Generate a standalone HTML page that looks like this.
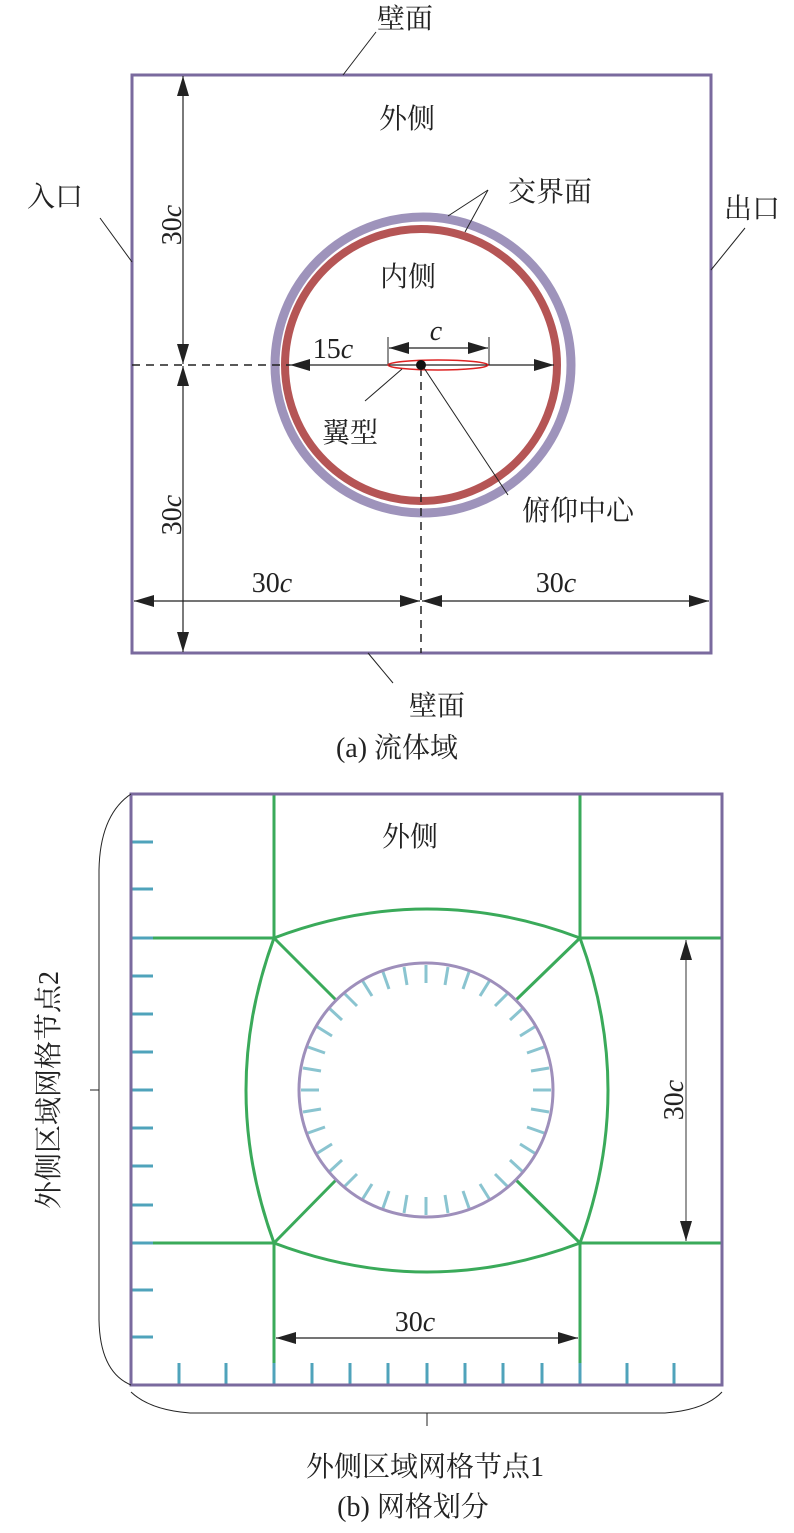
<!DOCTYPE html>
<html><head><meta charset="utf-8"><style>
html,body{margin:0;padding:0;background:#fff;}
svg{display:block;}
text{font-family:"Liberation Serif","Noto Serif CJK SC","Noto Sans CJK SC",serif;fill:#222;}
</style></head><body>
<svg width="794" height="1533" viewBox="0 0 794 1533" xmlns="http://www.w3.org/2000/svg">
<defs>
<marker id="ah" viewBox="0 0 20 12" refX="20" refY="6" markerWidth="22" markerHeight="12" markerUnits="userSpaceOnUse" orient="auto-start-reverse">
<path d="M0,0 L20,6 L0,12 Z" fill="#222"/>
</marker>
</defs>
<!-- (a) -->
<rect x="132" y="75" width="579" height="578" fill="none" stroke="#7a6a9e" stroke-width="3"/>
<circle cx="423" cy="365" r="148" fill="none" stroke="#9e93bb" stroke-width="9"/>
<circle cx="421" cy="365" r="136" fill="none" stroke="#b55555" stroke-width="8"/>
<line x1="132" y1="365" x2="290" y2="365" stroke="#222" stroke-width="1.5" stroke-dasharray="8,6"/>
<line x1="421" y1="368" x2="421" y2="653" stroke="#222" stroke-width="1.5" stroke-dasharray="8,6"/>
<line x1="183" y1="76" x2="183" y2="364" stroke="#222" stroke-width="1.2" marker-start="url(#ah)" marker-end="url(#ah)"/>
<line x1="183" y1="366" x2="183" y2="652" stroke="#222" stroke-width="1.2" marker-start="url(#ah)" marker-end="url(#ah)"/>
<line x1="134" y1="601" x2="420" y2="601" stroke="#222" stroke-width="1.2" marker-start="url(#ah)" marker-end="url(#ah)"/>
<line x1="422" y1="601" x2="709" y2="601" stroke="#222" stroke-width="1.2" marker-start="url(#ah)" marker-end="url(#ah)"/>
<line x1="290" y1="365" x2="554" y2="365" stroke="#222" stroke-width="1.2" marker-start="url(#ah)" marker-end="url(#ah)"/>
<line x1="388" y1="337" x2="388" y2="365" stroke="#222" stroke-width="1"/>
<line x1="489" y1="337" x2="489" y2="365" stroke="#222" stroke-width="1"/>
<line x1="389" y1="348" x2="488" y2="348" stroke="#222" stroke-width="1.2" marker-start="url(#ah)" marker-end="url(#ah)"/>
<ellipse cx="438" cy="365" rx="50" ry="5" fill="none" stroke="#d22" stroke-width="1.5"/>
<circle cx="421" cy="365" r="5" fill="#111"/>
<g stroke="#222" stroke-width="1" fill="none">
<line x1="376" y1="32" x2="343" y2="75"/>
<line x1="100" y1="218" x2="132" y2="262"/>
<line x1="745" y1="228" x2="711" y2="270"/>
<line x1="488" y1="190" x2="448" y2="216"/>
<line x1="488" y1="190" x2="465" y2="232"/>
<line x1="365" y1="401" x2="402" y2="369"/>
<line x1="508" y1="495" x2="424" y2="368"/>
<line x1="393" y1="683" x2="368" y2="653"/>
</g>
<g font-size="28">
<text x="405" y="28" text-anchor="middle">壁面</text>
<text x="407" y="128" text-anchor="middle">外侧</text>
<text x="55" y="206" text-anchor="middle">入口</text>
<text x="752" y="218" text-anchor="middle">出口</text>
<text x="550" y="201" text-anchor="middle">交界面</text>
<text x="408" y="286" text-anchor="middle">内侧</text>
<text x="350" y="442" text-anchor="middle">翼型</text>
<text x="578" y="520" text-anchor="middle">俯仰中心</text>
<text x="437" y="715" text-anchor="middle">壁面</text>
<text x="397" y="757" text-anchor="middle">(a) 流体域</text>
<text x="333" y="358" text-anchor="middle">15<tspan font-style="italic">c</tspan></text>
<text x="436" y="340" text-anchor="middle" font-style="italic">c</text>
<text x="272" y="592" text-anchor="middle">30<tspan font-style="italic">c</tspan></text>
<text x="556" y="592" text-anchor="middle">30<tspan font-style="italic">c</tspan></text>
<text transform="translate(181,225) rotate(-90)" text-anchor="middle">30<tspan font-style="italic">c</tspan></text>
<text transform="translate(181,515) rotate(-90)" text-anchor="middle">30<tspan font-style="italic">c</tspan></text>
</g>
<!-- (b) -->
<g stroke="#4fa3bb" stroke-width="3">
<line x1="131" y1="842" x2="153" y2="842"/><line x1="131" y1="889" x2="153" y2="889"/>
<line x1="131" y1="938" x2="153" y2="938"/><line x1="131" y1="976" x2="153" y2="976"/>
<line x1="131" y1="1014" x2="153" y2="1014"/><line x1="131" y1="1052" x2="153" y2="1052"/>
<line x1="131" y1="1090" x2="153" y2="1090"/><line x1="131" y1="1128" x2="153" y2="1128"/>
<line x1="131" y1="1166" x2="153" y2="1166"/><line x1="131" y1="1205" x2="153" y2="1205"/>
<line x1="131" y1="1243" x2="153" y2="1243"/><line x1="131" y1="1290" x2="153" y2="1290"/>
<line x1="131" y1="1337" x2="153" y2="1337"/>
<line x1="179" y1="1385" x2="179" y2="1363"/><line x1="226" y1="1385" x2="226" y2="1363"/>
<line x1="274" y1="1385" x2="274" y2="1363"/><line x1="312" y1="1385" x2="312" y2="1363"/>
<line x1="350" y1="1385" x2="350" y2="1363"/><line x1="388" y1="1385" x2="388" y2="1363"/>
<line x1="427" y1="1385" x2="427" y2="1363"/><line x1="465" y1="1385" x2="465" y2="1363"/>
<line x1="503" y1="1385" x2="503" y2="1363"/><line x1="542" y1="1385" x2="542" y2="1363"/>
<line x1="580" y1="1385" x2="580" y2="1363"/><line x1="627" y1="1385" x2="627" y2="1363"/>
<line x1="674" y1="1385" x2="674" y2="1363"/>
</g>
<g stroke="#3aaa5a" stroke-width="3" fill="none">
<line x1="274" y1="794" x2="274" y2="938"/>
<line x1="580" y1="794" x2="580" y2="938"/>
<line x1="274" y1="1243" x2="274" y2="1363"/>
<line x1="580" y1="1243" x2="580" y2="1363"/>
<line x1="153" y1="938" x2="274" y2="938"/>
<line x1="580" y1="938" x2="721" y2="938"/>
<line x1="153" y1="1243" x2="274" y2="1243"/>
<line x1="580" y1="1243" x2="721" y2="1243"/>
<path d="M274,938 Q427,880 580,938"/>
<path d="M274,1243 Q427,1301 580,1243"/>
<path d="M274,938 Q218,1090 274,1243"/>
<path d="M580,938 Q636,1090 580,1243"/>
<line x1="274" y1="938" x2="336" y2="1000"/>
<line x1="580" y1="938" x2="516" y2="1000"/>
<line x1="274" y1="1243" x2="336" y2="1180"/>
<line x1="580" y1="1243" x2="516" y2="1180"/>
</g>
<rect x="131" y="794" width="591" height="591" fill="none" stroke="#7a6a9e" stroke-width="3"/>
<g stroke="#222" stroke-width="1" fill="none">
<path d="M131,794 Q100,815 99,870 L99,1320 Q100,1372 131,1385"/>
<line x1="99" y1="1090" x2="90" y2="1090"/>
<path d="M131,1392 Q150,1410 190,1413 L665,1413 Q705,1410 722,1392"/>
<line x1="427" y1="1413" x2="427" y2="1426"/>
</g>
<line x1="686" y1="940" x2="686" y2="1241" stroke="#555" stroke-width="1.2" marker-start="url(#ah)" marker-end="url(#ah)"/>
<line x1="276" y1="1338" x2="578" y2="1338" stroke="#222" stroke-width="1.2" marker-start="url(#ah)" marker-end="url(#ah)"/>
<g font-size="28">
<text x="410" y="846" text-anchor="middle">外侧</text>
<text x="415" y="1331" text-anchor="middle">30<tspan font-style="italic">c</tspan></text>
<text transform="translate(683,1100) rotate(-90)" text-anchor="middle">30<tspan font-style="italic">c</tspan></text>
<text transform="translate(58,1090) rotate(-90)" text-anchor="middle">外侧区域网格节点2</text>
<text x="425" y="1476" text-anchor="middle">外侧区域网格节点1</text>
<text x="413" y="1516" text-anchor="middle">(b) 网格划分</text>
</g>
<g stroke="#8ac4d0" stroke-width="3">
<line x1="426" y1="965" x2="426" y2="983"/><line x1="448" y1="967" x2="445" y2="985"/><line x1="469" y1="972" x2="463" y2="989"/><line x1="490" y1="980" x2="480" y2="996"/><line x1="508" y1="993" x2="495" y2="1006"/><line x1="523" y1="1008" x2="510" y2="1020"/><line x1="536" y1="1026" x2="520" y2="1036"/><line x1="544" y1="1047" x2="527" y2="1053"/><line x1="549" y1="1068" x2="531" y2="1071"/><line x1="551" y1="1090" x2="533" y2="1090"/><line x1="549" y1="1112" x2="531" y2="1109"/><line x1="544" y1="1133" x2="527" y2="1127"/><line x1="536" y1="1154" x2="520" y2="1144"/><line x1="523" y1="1172" x2="510" y2="1160"/><line x1="508" y1="1187" x2="495" y2="1174"/><line x1="490" y1="1200" x2="480" y2="1184"/><line x1="469" y1="1208" x2="463" y2="1191"/><line x1="448" y1="1213" x2="445" y2="1195"/><line x1="426" y1="1215" x2="426" y2="1197"/><line x1="404" y1="1213" x2="407" y2="1195"/><line x1="383" y1="1208" x2="389" y2="1191"/><line x1="362" y1="1200" x2="372" y2="1184"/><line x1="344" y1="1187" x2="357" y2="1174"/><line x1="329" y1="1172" x2="342" y2="1160"/><line x1="316" y1="1154" x2="332" y2="1144"/><line x1="308" y1="1133" x2="325" y2="1127"/><line x1="303" y1="1112" x2="321" y2="1109"/><line x1="301" y1="1090" x2="319" y2="1090"/><line x1="303" y1="1068" x2="321" y2="1071"/><line x1="308" y1="1047" x2="325" y2="1053"/><line x1="316" y1="1026" x2="332" y2="1036"/><line x1="329" y1="1008" x2="342" y2="1020"/><line x1="344" y1="993" x2="357" y2="1006"/><line x1="362" y1="980" x2="372" y2="996"/><line x1="383" y1="972" x2="389" y2="989"/><line x1="404" y1="967" x2="407" y2="985"/>
</g>
<circle cx="426" cy="1090" r="127" fill="none" stroke="#9e8fbb" stroke-width="3"/>
</svg>
</body></html>
